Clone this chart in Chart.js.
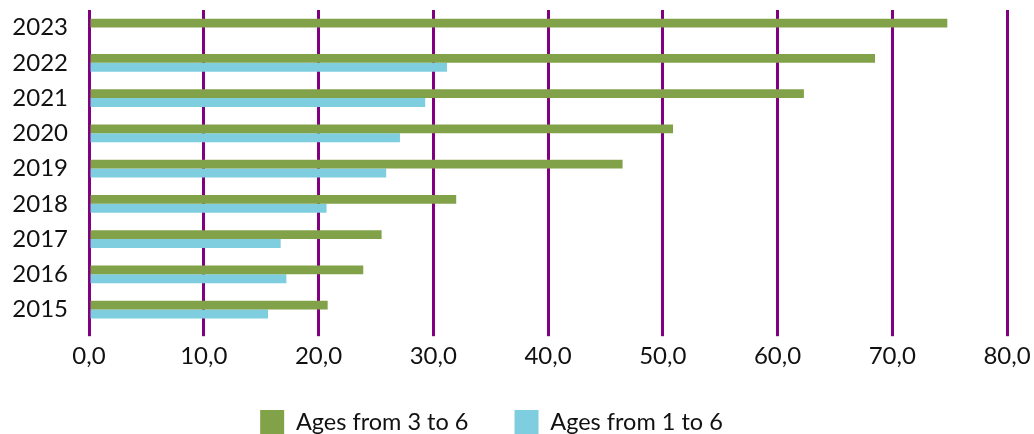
<!DOCTYPE html>
<html>
<head>
<meta charset="utf-8">
<script src="https://cdn.jsdelivr.net/npm/chart.js@4"></script>
<style>
html,body{margin:0;padding:0;background:#fff;}
#wrap{width:1034px;height:434px;position:relative;}
</style>
</head>
<body>
<div id="wrap"><canvas id="c" width="1034" height="434"></canvas></div>
<script>
const years = ['2023','2022','2021','2020','2019','2018','2017','2016','2015'];
const ages3to6 = [74.8, 68.5, 62.3, 50.9, 46.5, 32.0, 25.5, 23.9, 20.8];
const ages1to6 = [null, 31.2, 29.3, 27.1, 25.9, 20.7, 16.7, 17.2, 15.6];
const seriesNames = ['Ages from 3 to 6', 'Ages from 1 to 6'];
const xTicks = [0, 10, 20, 30, 40, 50, 60, 70, 80];

const GREEN = '#82A24A';
const BLUE = '#7ECEE0';
const PURPLE = '#800080';
const FONT = 'Lato';

new Chart(document.getElementById('c'), {
  type: 'bar',
  data: {
    labels: years,
    datasets: [
      { label: seriesNames[0], data: ages3to6, backgroundColor: GREEN, borderWidth: 0,
        categoryPercentage: 0.5, barPercentage: 1.0 },
      { label: seriesNames[1], data: ages1to6, backgroundColor: BLUE, borderWidth: 0,
        categoryPercentage: 0.5, barPercentage: 1.0 }
    ]
  },
  options: {
    indexAxis: 'y',
    responsive: false,
    animation: false,
    layout: { padding: { top: 10, right: 27, left: 0, bottom: 0 } },
    scales: {
      x: {
        min: xTicks[0], max: xTicks[xTicks.length - 1],
        afterBuildTicks: (s) => { s.ticks = xTicks.map(v => ({ value: v })); },
        afterFit: (s) => { s.height += 23; s.paddingLeft = 0; s.paddingRight = 0; },
        grid: { color: PURPLE, lineWidth: 3, tickLength: 9, drawTicks: true, tickColor: PURPLE },
        border: { display: false },
        ticks: {
          padding: 6,
          color: '#111',
          font: { family: FONT, size: 24 },
          callback: (v) => Number(v).toFixed(1).replace('.', ',')
        }
      },
      y: {
        afterFit: (s) => { s.width = 89; s.paddingTop = 0; s.paddingBottom = 0; },
        grid: { display: false, drawTicks: false },
        border: { display: false },
        ticks: { padding: 21, color: '#111', font: { family: FONT, size: 24 } }
      }
    },
    plugins: {
      tooltip: { enabled: false },
      legend: {
        position: 'bottom',
        maxHeight: 34,
        labels: {
          boxWidth: 24, boxHeight: 24, padding: 10,
          color: '#111',
          font: { family: FONT, size: 23.5 },
          generateLabels: (chart) => {
            const items = Chart.defaults.plugins.legend.labels.generateLabels(chart);
            items[0].text = items[0].text + '      ';
            items[1].text = items[1].text + '    ';
            return items;
          }
        }
      }
    }
  }
});
</script>
</body>
</html>
